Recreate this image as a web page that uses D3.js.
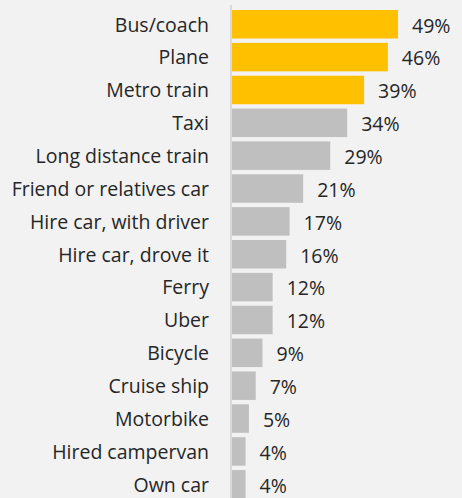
<!DOCTYPE html>
<html><head><meta charset="utf-8">
<script src="https://cdn.jsdelivr.net/npm/d3@7"></script>
<style>html,body{margin:0;padding:0;background:#f2f2f2;}svg{display:block;}</style>
</head><body>
<script>
const categories = ["Bus/coach","Plane","Metro train","Taxi","Long distance train","Friend or relatives car","Hire car, with driver","Hire car, drove it","Ferry","Uber","Bicycle","Cruise ship","Motorbike","Hired campervan","Own car"];
const values = [49,46,39,34,29,21,17,16,12,12,9,7,5,4,4];
const highlighted = [true,true,true,false,false,false,false,false,false,false,false,false,false,false,false];

const W = 462, H = 498;
const svg = d3.select("body").append("svg").attr("width", W).attr("height", H);
svg.append("rect").attr("width", W).attr("height", H).attr("fill", "#f2f2f2");

const x0 = 232;
const x = d3.scaleLinear().domain([0, 49]).range([x0, 398]);
const y = d3.scaleBand().domain(categories).range([5.63, 502.9]).paddingInner(0.133).paddingOuter(0.133);

svg.append("line").attr("x1", 231).attr("x2", 231).attr("y1", 5).attr("y2", H)
  .attr("stroke", "#d9d9d9").attr("stroke-width", 2);

const font = "'Open Sans', sans-serif";
const g = svg.selectAll("g.bar").data(categories).enter().append("g");
g.append("rect")
  .attr("x", x0)
  .attr("y", d => y(d))
  .attr("width", (d,i) => x(values[i]) - x0)
  .attr("height", y.bandwidth())
  .attr("fill", (d,i) => highlighted[i] ? "#ffc000" : "#bfbfbf");
g.append("text")
  .attr("x", 209)
  .attr("y", d => y(d) + y.bandwidth()/2 + 0.5)
  .attr("dy", "0.35em")
  .attr("text-anchor", "end")
  .attr("font-family", font)
  .attr("font-size", 19.5)
  .attr("fill", "#262626")
  .text(d => d);
g.append("text")
  .attr("x", (d,i) => x(values[i]) + 14)
  .attr("y", d => y(d) + y.bandwidth()/2 + 1.5)
  .attr("dy", "0.35em")
  .attr("font-family", font)
  .attr("font-size", 19.5)
  .attr("fill", "#262626")
  .text((d,i) => values[i] + "%");
</script>
</body></html>
